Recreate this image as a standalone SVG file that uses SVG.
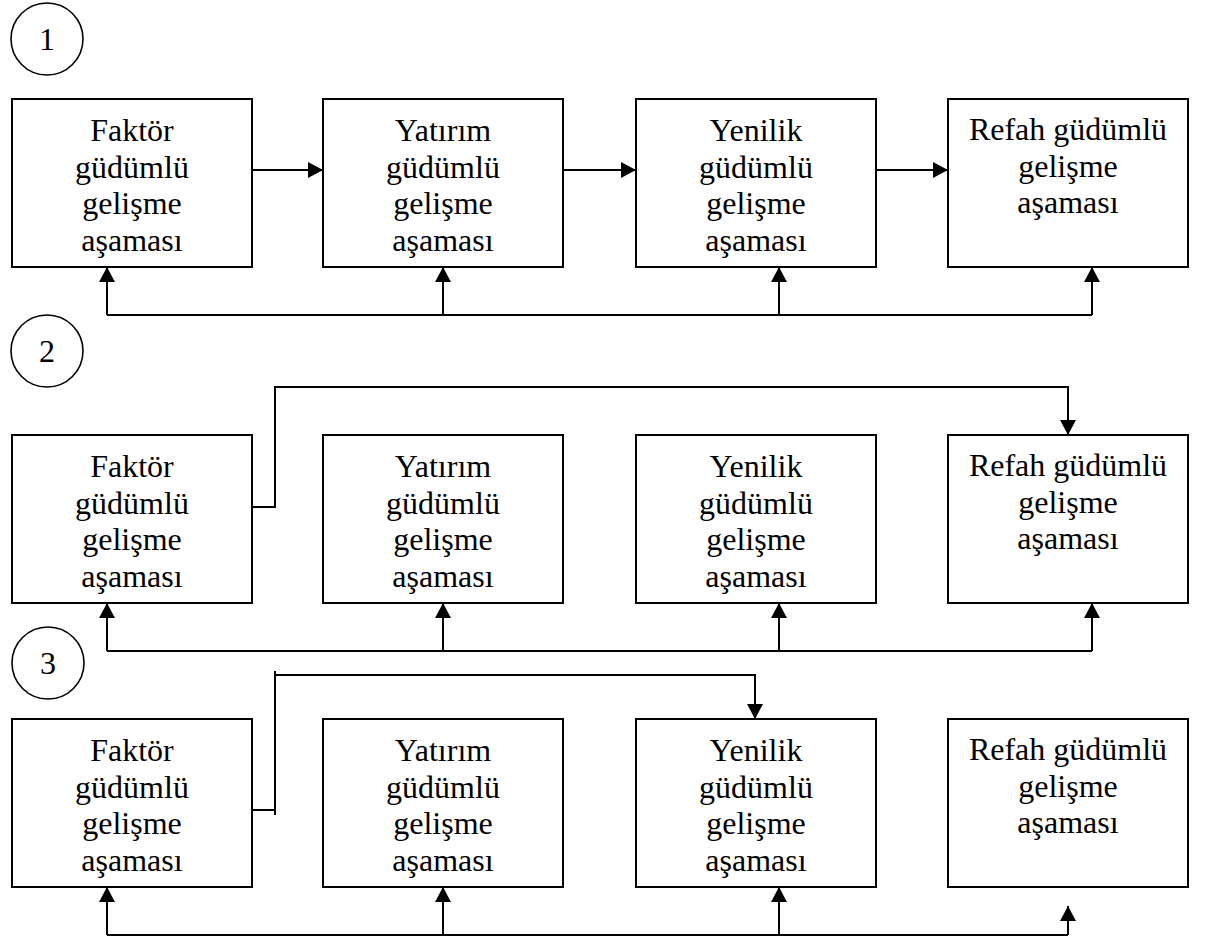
<svg xmlns="http://www.w3.org/2000/svg" width="1207" height="943" viewBox="0 0 1207 943">
<style>
.box{fill:#fff;stroke:#000;stroke-width:2}
.circ{fill:#fff;stroke:#000;stroke-width:1.6}
.ln{fill:none;stroke:#000;stroke-width:2}
.arr{fill:none;stroke:#000;stroke-width:2;marker-end:url(#ah)}
text{font-family:'Liberation Serif','Times New Roman','DejaVu Serif',serif;font-size:32px;fill:#000;text-anchor:middle}
</style>
<defs>
<marker id="ah" markerUnits="userSpaceOnUse" markerWidth="16" markerHeight="18" refX="15" refY="8" orient="auto">
<path d="M0,0 L15,8 L0,16 z" fill="#000"/>
</marker>
</defs>
<rect width="1207" height="943" fill="#fff"/>

<g font-family="Liberation Serif, Times New Roman, DejaVu Serif, serif">
<g id="label1"><circle class="circ" cx="47" cy="39" r="36"/><text x="47" y="50">1</text></g>
<g id="label2"><circle class="circ" cx="47" cy="351" r="36"/><text x="47" y="362">2</text></g>
<g id="label3"><circle class="circ" cx="48" cy="663" r="36"/><text x="48" y="674">3</text></g>

<g id="r1-faktor"><rect class="box" x="12" y="99" width="240" height="168"/><text x="132" y="141">Faktör</text><text x="132" y="178">güdümlü</text><text x="132" y="214">gelişme</text><text x="132" y="251">aşaması</text></g>
<g id="r1-yatirim"><rect class="box" x="323" y="99" width="240" height="168"/><text x="443" y="141">Yatırım</text><text x="443" y="178">güdümlü</text><text x="443" y="214">gelişme</text><text x="443" y="251">aşaması</text></g>
<g id="r1-yenilik"><rect class="box" x="636" y="99" width="240" height="168"/><text x="756" y="141">Yenilik</text><text x="756" y="178">güdümlü</text><text x="756" y="214">gelişme</text><text x="756" y="251">aşaması</text></g>
<g id="r1-refah"><rect class="box" x="948" y="99" width="240" height="168"/><text x="1068" y="140">Refah güdümlü</text><text x="1068" y="177">gelişme</text><text x="1068" y="213">aşaması</text></g>

<g id="r2-faktor"><rect class="box" x="12" y="435" width="240" height="168"/><text x="132" y="477">Faktör</text><text x="132" y="514">güdümlü</text><text x="132" y="550">gelişme</text><text x="132" y="587">aşaması</text></g>
<g id="r2-yatirim"><rect class="box" x="323" y="435" width="240" height="168"/><text x="443" y="477">Yatırım</text><text x="443" y="514">güdümlü</text><text x="443" y="550">gelişme</text><text x="443" y="587">aşaması</text></g>
<g id="r2-yenilik"><rect class="box" x="636" y="435" width="240" height="168"/><text x="756" y="477">Yenilik</text><text x="756" y="514">güdümlü</text><text x="756" y="550">gelişme</text><text x="756" y="587">aşaması</text></g>
<g id="r2-refah"><rect class="box" x="948" y="435" width="240" height="168"/><text x="1068" y="476">Refah güdümlü</text><text x="1068" y="513">gelişme</text><text x="1068" y="549">aşaması</text></g>

<g id="r3-faktor"><rect class="box" x="12" y="719" width="240" height="168"/><text x="132" y="761">Faktör</text><text x="132" y="798">güdümlü</text><text x="132" y="834">gelişme</text><text x="132" y="871">aşaması</text></g>
<g id="r3-yatirim"><rect class="box" x="323" y="719" width="240" height="168"/><text x="443" y="761">Yatırım</text><text x="443" y="798">güdümlü</text><text x="443" y="834">gelişme</text><text x="443" y="871">aşaması</text></g>
<g id="r3-yenilik"><rect class="box" x="636" y="719" width="240" height="168"/><text x="756" y="761">Yenilik</text><text x="756" y="798">güdümlü</text><text x="756" y="834">gelişme</text><text x="756" y="871">aşaması</text></g>
<g id="r3-refah"><rect class="box" x="948" y="719" width="240" height="168"/><text x="1068" y="760">Refah güdümlü</text><text x="1068" y="797">gelişme</text><text x="1068" y="833">aşaması</text></g>
</g>

<g id="connectors">
<path class="arr" d="M252,170 H323"/>
<path class="arr" d="M563,170 H636"/>
<path class="arr" d="M876,170 H948"/>
<path class="ln" d="M107,315 H1092"/>
<path class="arr" d="M107,315 V267"/>
<path class="arr" d="M443,315 V267"/>
<path class="arr" d="M779,315 V267"/>
<path class="arr" d="M1092,315 V267"/>
<path class="arr" d="M252,507 H275 V387 H1068 V435"/>
<path class="ln" d="M107,651 H1092"/>
<path class="arr" d="M107,651 V603"/>
<path class="arr" d="M443,651 V603"/>
<path class="arr" d="M779,651 V603"/>
<path class="arr" d="M1092,651 V603"/>
<path class="ln" d="M252,810 H275"/>
<path class="ln" d="M275,815 V671"/>
<path class="arr" d="M275,675 H755 V719"/>
<path class="ln" d="M107,935 H1068"/>
<path class="arr" d="M107,935 V887"/>
<path class="arr" d="M443,935 V887"/>
<path class="arr" d="M779,935 V887"/>
<path class="arr" d="M1068,935 V906"/>
</g>
</svg>
